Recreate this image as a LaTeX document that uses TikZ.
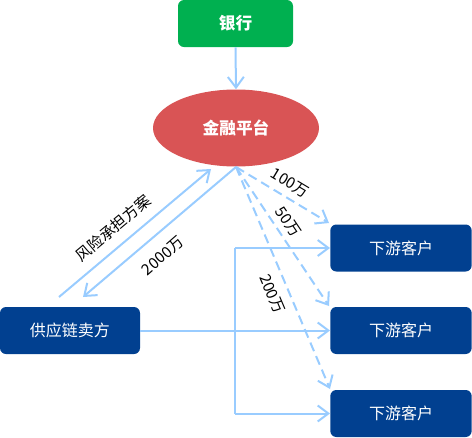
\documentclass[tikz,border=0pt]{standalone}
\usepackage{fontspec}
\setmainfont{Noto Sans CJK SC}
\usetikzlibrary{arrows.meta,shapes.geometric}
\definecolor{lineblue}{RGB}{153,204,255}
\definecolor{bankgreen}{RGB}{0,176,80}
\definecolor{darkblue}{RGB}{1,64,144}
\definecolor{platred}{RGB}{217,84,85}
\begin{document}
\begin{tikzpicture}[x=0.75pt,y=-0.75pt,
  boxnode/.style={rectangle, rounded corners=4.5pt, text=white, inner sep=0pt,
    minimum height=35.25pt, font=\fontsize{12}{14}\selectfont},
  bluebox/.style={boxnode, fill=darkblue, minimum width=106pt},
  conn/.style={draw=lineblue, line width=1.5pt},
  arr/.style={conn, -{Straight Barb[length=8pt,width=12pt]}},
  dashline/.style={arr, dash pattern=on 7pt off 4pt},
  lbl/.style={text=black, inner sep=0pt, font=\fontsize{11.5}{13}\selectfont},
]
\useasboundingbox (0,0) rectangle (472,437);

% nodes
\node[boxnode, fill=bankgreen, minimum width=86.25pt, font=\fontsize{12.5}{14}\selectfont\bfseries] (bank) at (235.5,23.5) {银行};
\node[ellipse, fill=platred, minimum width=124.5pt, minimum height=57.75pt, inner sep=0pt,
  text=white, font=\fontsize{12.5}{14}\selectfont\bfseries] (plat) at (236,128) {金融平台};
\node[bluebox, minimum width=105pt] (seller) at (70,330.5) {供应链卖方};
\node[bluebox] (c1) at (401,248) {下游客户};
\node[bluebox] (c2) at (401,330.5) {下游客户};
\node[bluebox] (c3) at (401,413.5) {下游客户};

% free ends
\coordinate (sA) at (59,297);
\coordinate (pA) at (211,169);
\coordinate (pB) at (236,167);
\coordinate (sB) at (83,297);
\coordinate (t1) at (329,223);
\coordinate (t2) at (329,306);
\coordinate (t3) at (330,389);
\coordinate (j) at (235,330.5);

% connectors
\draw[arr] (bank.south) -- (plat.north);
\draw[arr] (sA) -- (pA);
\draw[arr] (pB) -- (sB);
\draw[dashline] (pB) -- (t1);
\draw[dashline] (pB) -- (t2);
\draw[dashline] (pB) -- (t3);
\draw[conn] (seller.east) -- (j);
\draw[conn] (j |- c1.west) -- (j |- c3.west);
\draw[arr] (j |- c1.west) -- (c1.west);
\draw[arr] (j) -- (c2.west);
\draw[arr] (j |- c3.west) -- (c3.west);

% labels
\node[lbl, rotate=-31] (l100) at (290,183) {100万};
\node[lbl, rotate=-56] (l50) at (288,222) {50万};
\node[lbl, rotate=-67] (l200) at (272,294) {200万};
\node[lbl, rotate=40] (lrisk) at (113,228) {风险承担方案};
\node[lbl, rotate=41] (l2000) at (163,256) {2000万};
\end{tikzpicture}
\end{document}
